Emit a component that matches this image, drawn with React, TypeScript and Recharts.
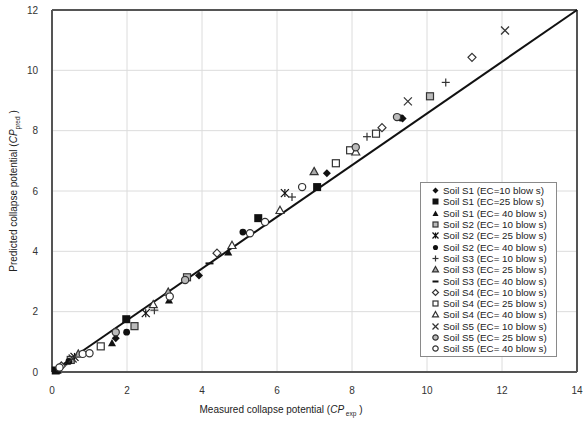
import { ScatterChart, Scatter, XAxis, YAxis, CartesianGrid, ReferenceLine, Legend } from "recharts";

type Pt = { x: number; y: number };

const X_TICKS = [0, 2, 4, 6, 8, 10, 12, 14];
const Y_TICKS = [0, 2, 4, 6, 8, 10, 12];

// measured vs predicted, one array per soil / compaction energy
const s1ec10: Pt[] = [{ x: 1.7, y: 1.12 }, { x: 3.92, y: 3.2 }, { x: 7.33, y: 6.59 }, { x: 9.35, y: 8.4 }];
const s1ec25: Pt[] = [{ x: 0.1, y: 0.05 }, { x: 1.98, y: 1.75 }, { x: 5.5, y: 5.1 }, { x: 7.07, y: 6.13 }];
const s1ec40: Pt[] = [{ x: 0.15, y: 0.05 }, { x: 1.6, y: 0.96 }, { x: 3.12, y: 2.38 }, { x: 4.7, y: 3.97 }];
const s2ec10: Pt[] = [{ x: 0.5, y: 0.4 }, { x: 2.2, y: 1.52 }, { x: 3.6, y: 3.14 }, { x: 10.08, y: 9.14 }];
const s2ec25: Pt[] = [{ x: 0.6, y: 0.5 }, { x: 2.5, y: 1.95 }, { x: 6.21, y: 5.93 }];
const s2ec40: Pt[] = [{ x: 0.45, y: 0.35 }, { x: 1.99, y: 1.32 }, { x: 5.09, y: 4.64 }, { x: 9.3, y: 8.42 }];
const s3ec10: Pt[] = [{ x: 2.73, y: 2.05 }, { x: 6.4, y: 5.8 }, { x: 8.4, y: 7.8 }, { x: 10.5, y: 9.6 }];
const s3ec25: Pt[] = [{ x: 0.7, y: 0.6 }, { x: 3.1, y: 2.65 }, { x: 6.99, y: 6.65 }];
const s3ec40: Pt[] = [{ x: 0.3, y: 0.25 }, { x: 4.2, y: 3.6 }];
const s4ec10: Pt[] = [{ x: 0.25, y: 0.2 }, { x: 4.4, y: 3.94 }, { x: 8.8, y: 8.1 }, { x: 11.2, y: 10.43 }];
const s4ec25: Pt[] = [{ x: 1.3, y: 0.85 }, { x: 7.57, y: 6.92 }, { x: 7.95, y: 7.35 }, { x: 8.64, y: 7.9 }];
const s4ec40: Pt[] = [{ x: 2.7, y: 2.24 }, { x: 4.8, y: 4.2 }, { x: 6.08, y: 5.36 }, { x: 8.1, y: 7.3 }];
const s5ec10: Pt[] = [{ x: 0.55, y: 0.45 }, { x: 9.49, y: 8.97 }, { x: 12.08, y: 11.32 }];
const s5ec25: Pt[] = [{ x: 1.7, y: 1.32 }, { x: 3.55, y: 3.05 }, { x: 8.1, y: 7.45 }, { x: 9.2, y: 8.45 }];
const s5ec40: Pt[] = [
  { x: 0.2, y: 0.15 }, { x: 0.82, y: 0.6 }, { x: 1.0, y: 0.62 }, { x: 3.14, y: 2.5 },
  { x: 5.28, y: 4.6 }, { x: 5.68, y: 4.97 }, { x: 6.67, y: 6.13 },
];

const SERIES = [
  { name: "Soil S1 (EC=10 blow s)", data: s1ec10, mark: "diamondFill" },
  { name: "Soil S1 (EC=25 blow s)", data: s1ec25, mark: "squareFill" },
  { name: "Soil S1 (EC= 40 blow s)", data: s1ec40, mark: "triangleFill" },
  { name: "Soil S2 (EC= 10 blow s)", data: s2ec10, mark: "squareGray" },
  { name: "Soil S2 (EC= 25 blow s)", data: s2ec25, mark: "star" },
  { name: "Soil S2 (EC= 40 blow s)", data: s2ec40, mark: "circleFill" },
  { name: "Soil S3 (EC= 10 blow s)", data: s3ec10, mark: "plus" },
  { name: "Soil S3 (EC= 25 blow s)", data: s3ec25, mark: "triangleGray" },
  { name: "Soil S3 (EC= 40 blow s)", data: s3ec40, mark: "dash" },
  { name: "Soil S4 (EC= 10 blow s)", data: s4ec10, mark: "diamondOpen" },
  { name: "Soil S4 (EC= 25 blow s)", data: s4ec25, mark: "squareOpen" },
  { name: "Soil S4 (EC= 40 blow s)", data: s4ec40, mark: "triangleOpen" },
  { name: "Soil S5 (EC= 10 blow s)", data: s5ec10, mark: "cross" },
  { name: "Soil S5 (EC= 25 blow s)", data: s5ec25, mark: "circleGray" },
  { name: "Soil S5 (EC= 40 blow s)", data: s5ec40, mark: "circleOpen" },
];

const INK = "#111";
const EDGE = "#333";
const GRID = "#dcdcdc";
const FRAME = "#555";
const FONT = "'Liberation Sans', Arial, sans-serif";

function Mark({ kind, cx, cy, r = 4 }: { kind: string; cx: number; cy: number; r?: number }) {
  const tri = `${cx},${cy - r} ${cx + r},${cy + r * 0.8} ${cx - r},${cy + r * 0.8}`;
  const dia = `${cx},${cy - r} ${cx + r},${cy} ${cx},${cy + r} ${cx - r},${cy}`;
  switch (kind) {
    case "diamondFill":
      return <polygon points={dia} fill={INK} />;
    case "squareFill":
      return <rect x={cx - r} y={cy - r} width={r * 2} height={r * 2} fill={INK} />;
    case "triangleFill":
      return <polygon points={tri} fill={INK} />;
    case "squareGray":
      return <rect x={cx - r + 0.5} y={cy - r + 0.5} width={r * 2 - 1} height={r * 2 - 1} fill="#bbb" stroke={EDGE} strokeWidth={1.2} />;
    case "star":
      return (
        <g stroke={INK} strokeWidth={1.2}>
          <line x1={cx - r} y1={cy - r} x2={cx + r} y2={cy + r} />
          <line x1={cx - r} y1={cy + r} x2={cx + r} y2={cy - r} />
          <line x1={cx} y1={cy - r} x2={cx} y2={cy + r} />
        </g>
      );
    case "circleFill":
      return <circle cx={cx} cy={cy} r={r * 0.85} fill={INK} />;
    case "plus":
      return (
        <g stroke={EDGE} strokeWidth={1.2}>
          <line x1={cx - r} y1={cy} x2={cx + r} y2={cy} />
          <line x1={cx} y1={cy - r} x2={cx} y2={cy + r} />
        </g>
      );
    case "triangleGray":
      return <polygon points={tri} fill="#aaa" stroke={EDGE} strokeWidth={1.2} />;
    case "dash":
      return <line x1={cx - r} y1={cy} x2={cx + r} y2={cy} stroke={INK} strokeWidth={2} />;
    case "diamondOpen":
      return <polygon points={dia} fill="#fff" stroke={EDGE} strokeWidth={1.2} />;
    case "squareOpen":
      return <rect x={cx - r + 0.5} y={cy - r + 0.5} width={r * 2 - 1} height={r * 2 - 1} fill="#fff" stroke={EDGE} strokeWidth={1.2} />;
    case "triangleOpen":
      return <polygon points={tri} fill="#fff" stroke={EDGE} strokeWidth={1.2} />;
    case "cross":
      return (
        <g stroke={EDGE} strokeWidth={1.3}>
          <line x1={cx - r} y1={cy - r} x2={cx + r} y2={cy + r} />
          <line x1={cx - r} y1={cy + r} x2={cx + r} y2={cy - r} />
        </g>
      );
    case "circleGray":
      return <circle cx={cx} cy={cy} r={r * 0.9} fill="#bbb" stroke={EDGE} strokeWidth={1.2} />;
    default:
      return <circle cx={cx} cy={cy} r={r * 0.9} fill="#fff" stroke={EDGE} strokeWidth={1.2} />;
  }
}

function LegendBox() {
  return (
    <div
      style={{
        border: "1px solid #8a8a8a",
        background: "#fff",
        height: "100%",
        boxSizing: "border-box",
        padding: "2px 0 0 10px",
        fontFamily: FONT,
        fontSize: 9.8,
        color: "#222",
      }}
    >
      {SERIES.map((s) => (
        <div key={s.name} style={{ display: "flex", alignItems: "center", height: 11.3, whiteSpace: "nowrap" }}>
          <svg width={9} height={9} style={{ marginRight: 3 }}>
            <Mark kind={s.mark} cx={4.5} cy={4.5} r={3} />
          </svg>
          <span>{s.name}</span>
        </div>
      ))}
    </div>
  );
}

function YTitle() {
  return (
    <text transform="translate(17,191) rotate(-90)" textAnchor="middle" fontFamily={FONT} fontSize={10} fill="#222">
      Predicted collapse potential (<tspan fontStyle="italic">CP</tspan>
      <tspan fontSize={6.5} dy={3}>pred</tspan>
      <tspan dy={-3}> )</tspan>
    </text>
  );
}

function XTitle() {
  return (
    <text x={281} y={413} textAnchor="middle" fontFamily={FONT} fontSize={10} fill="#222">
      Measured collapse potential (<tspan fontStyle="italic">CP</tspan>
      <tspan fontSize={6.5} dy={3}> exp</tspan>
      <tspan dy={-3}> )</tspan>
    </text>
  );
}

export default function App() {
  const tick = { fill: "#333", fontSize: 10, fontFamily: FONT };
  return (
    <div style={{ position: "absolute", left: 0, top: 0, background: "#fff" }}>
      <ScatterChart width={586} height={421} margin={{ top: 10, right: 9, bottom: 0, left: 0 }}>
        <CartesianGrid stroke={GRID} strokeWidth={1} />
        <XAxis
          type="number"
          dataKey="x"
          domain={[0, 14]}
          ticks={X_TICKS}
          height={49}
          tick={tick}
          tickLine={false}
          tickMargin={9}
          stroke={FRAME}
          strokeWidth={2}
          label={{ content: () => <XTitle /> }}
        />
        <YAxis
          type="number"
          dataKey="y"
          domain={[0, 12]}
          ticks={Y_TICKS}
          width={52}
          tick={tick}
          tickLine={false}
          tickMargin={8}
          stroke={FRAME}
          strokeWidth={2}
          label={{ content: () => <YTitle /> }}
        />
        <ReferenceLine y={12} stroke={FRAME} strokeWidth={2} />
        <ReferenceLine x={14} stroke={FRAME} strokeWidth={2} />
        <ReferenceLine segment={[{ x: 0, y: 0 }, { x: 14, y: 12 }]} stroke="#111" strokeWidth={2} />
        {SERIES.map((s) => (
          <Scatter
            key={s.name}
            name={s.name}
            data={s.data}
            isAnimationActive={false}
            shape={(p: any) => <Mark kind={s.mark} cx={p.cx} cy={p.cy} />}
          />
        ))}
        <Legend
          layout="vertical"
          align="center"
          verticalAlign="middle"
          wrapperStyle={{ left: 420, top: 182, width: 137, height: 175 }}
          content={() => <LegendBox />}
        />
      </ScatterChart>
    </div>
  );
}
